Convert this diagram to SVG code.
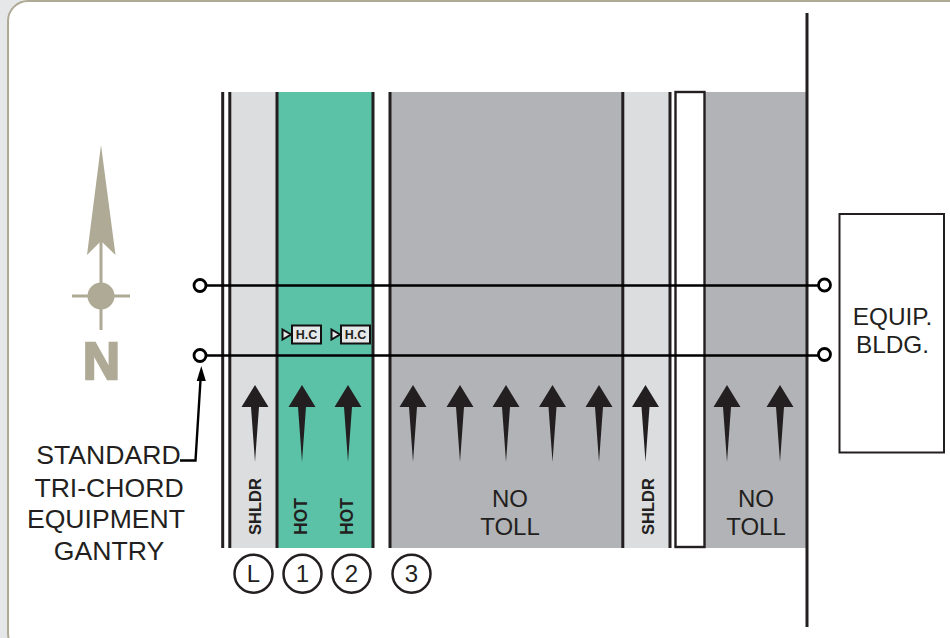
<svg xmlns="http://www.w3.org/2000/svg" width="950" height="638" viewBox="0 0 950 638">
<style>
text{font-family:"Liberation Sans",Arial,sans-serif;fill:#231f20}
.lbl{font-size:26.6px;text-anchor:middle}
.toll{font-size:24px;text-anchor:middle}
.bldg{font-size:24.4px;text-anchor:middle}
.lane{font-size:16.5px;font-weight:bold;text-anchor:start}
.hot{font-size:17.5px;font-weight:bold;text-anchor:start}
.num{font-size:24px;text-anchor:middle}
.ln{stroke:#231f20;stroke-width:3;fill:none}
.ring{fill:#fff;stroke:#231f20;stroke-width:2.5}
.gantry{stroke:#000;stroke-width:2.6;fill:none}
.end{fill:#fff;stroke:#000;stroke-width:2.8}
.hcb{fill:#e6e7e8;stroke:#111;stroke-width:2}
.hct{font-size:12.5px;font-weight:bold;text-anchor:middle}
.na{fill:#aeaa96}
.nl{stroke:#aeaa96;stroke-width:3;fill:none}
</style>
<defs>
<path id="up" d="M0 0L13.500 22H4L0 77L-4 22H-13.500Z" fill="#231f20"/>
</defs>
<rect width="950" height="638" fill="#e6e7e8"/>
<rect x="8" y="1" width="970" height="652" rx="20" fill="#fff" stroke="#aeaa96" stroke-width="2"/>
<g id="roadway">
<rect x="230" y="92" width="47" height="456" fill="#dcddde"/>
<rect x="277" y="92" width="96" height="456" fill="#5bc2a7"/>
<rect x="389" y="92" width="233" height="456" fill="#b1b3b6"/>
<rect x="622" y="92" width="48" height="456" fill="#dcddde"/>
<rect x="704" y="92" width="103" height="456" fill="#b1b3b6"/>
<path class="ln" d="M222.700 92V548M229.800 92V548M277 92V548M373 92V548M390 92V548M622.800 92V548M670 92V548"/>
<rect id="median" x="675.500" y="92" width="29" height="455" fill="#fff" stroke="#231f20" stroke-width="2.400"/>
<path class="ln" d="M807 13V627"/>
</g>
<g id="connectors">
<path class="gantry" d="M205 285.500H819M205 355.500H819"/>
<path d="M180 460.500H195.500L200.500 380" fill="none" stroke="#000" stroke-width="2.400"/>
<path d="M201.300 366L205.800 381H196.700Z" fill="#000"/>
</g>
<g id="gantry-ends">
<circle class="end" cx="200" cy="285.500" r="6"/>
<circle class="end" cx="200" cy="355.500" r="6"/>
<circle class="end" cx="824.500" cy="285" r="6"/>
<circle class="end" cx="824.500" cy="354.500" r="6"/>
</g>
<g id="north-arrow">
<path class="na" d="M101 145L115.500 255L101 241L87 255Z"/>
<path class="nl" d="M101 241V330M72 296H130"/>
<circle class="na" cx="101" cy="296" r="13.500"/>
<text x="101.500" y="379" text-anchor="middle" font-size="51" font-weight="bold" style="fill:#aeaa96;stroke:#aeaa96;stroke-width:2.500">N</text>
</g>
<g id="hc-1">
<path class="hcb" d="M282.500 329.500L291 334.500L282.500 339.500Z"/>
<rect class="hcb" x="292" y="325.500" width="29" height="18"/>
<text class="hct" x="306.500" y="339">H.C</text>
</g>
<g id="hc-2">
<path class="hcb" d="M331.500 329.500L340 334.500L331.500 339.500Z"/>
<rect class="hcb" x="341" y="325.500" width="29" height="18"/>
<text class="hct" x="355.500" y="339">H.C</text>
</g>
<g id="lane-arrows">
<use href="#up" x="255" y="385"/>
<use href="#up" x="302" y="385"/>
<use href="#up" x="348" y="385"/>
<use href="#up" x="413" y="385"/>
<use href="#up" x="460" y="385"/>
<use href="#up" x="506" y="385"/>
<use href="#up" x="552.500" y="385"/>
<use href="#up" x="599" y="385"/>
<use href="#up" x="645.500" y="385"/>
<use href="#up" x="727" y="385"/>
<use href="#up" x="780" y="385"/>
</g>
<g id="lane-labels">
<text class="lane" transform="translate(261 535) rotate(-90)">SHLDR</text>
<text class="hot" transform="translate(306.500 535) rotate(-90)">HOT</text>
<text class="hot" transform="translate(352.500 535) rotate(-90)">HOT</text>
<text class="lane" transform="translate(654 535) rotate(-90)">SHLDR</text>
<text class="toll" x="510" y="507">NO</text>
<text class="toll" x="510" y="535">TOLL</text>
<text class="toll" x="756" y="507">NO</text>
<text class="toll" x="756" y="535">TOLL</text>
</g>
<g id="gantry-label">
<text class="lbl" x="108.500" y="464">STANDARD</text>
<text class="lbl" x="109" y="496.500">TRI-CHORD</text>
<text class="lbl" x="106" y="528">EQUIPMENT</text>
<text class="lbl" x="109" y="560">GANTRY</text>
</g>
<g id="equip-bldg">
<rect x="839.500" y="214" width="104.500" height="238.500" fill="#fff" stroke="#231f20" stroke-width="2"/>
<text class="bldg" x="892.500" y="325">EQUIP.</text>
<text class="bldg" x="892.500" y="353">BLDG.</text>
</g>
<g id="lane-L"><circle class="ring" cx="253.500" cy="573.700" r="19"/><text class="num" x="253.500" y="582">L</text></g>
<g id="lane-1"><circle class="ring" cx="302.500" cy="573.700" r="19"/><text class="num" x="302.500" y="582">1</text></g>
<g id="lane-2"><circle class="ring" cx="351.500" cy="573.700" r="19"/><text class="num" x="351.500" y="582">2</text></g>
<g id="lane-3"><circle class="ring" cx="411.500" cy="573.700" r="19"/><text class="num" x="411.500" y="582">3</text></g>
</svg>
